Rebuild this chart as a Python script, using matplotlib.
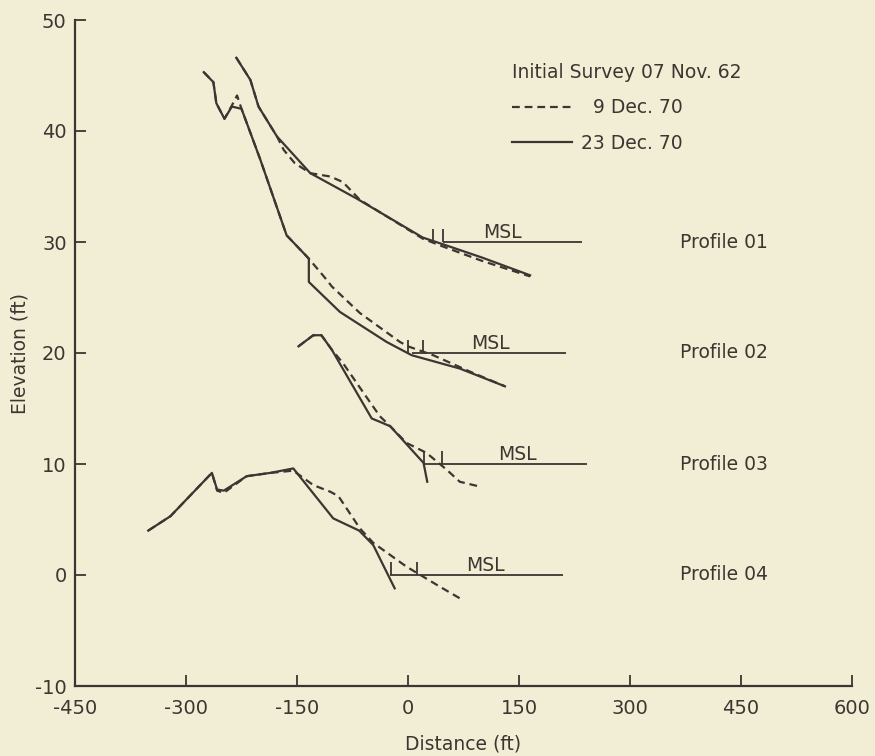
import matplotlib
matplotlib.use("Agg")
import matplotlib.pyplot as plt
from matplotlib.lines import Line2D

plt.rcParams['font.family'] = ['DejaVu Sans']

# ---------------- data (distance ft, elevation ft) ----------------
p1_dec23_x = [-232, -213, -202, -177, -132, -69, 20, 47, 100, 165]
p1_dec23_y = [46.6, 44.6, 42.2, 39.5, 36.2, 33.9, 30.4, 29.8, 28.6, 27.0]
p1_dec9_x = [-232, -213, -202, -177, -168, -153, -132, -105, -88, -65, 20, 47, 100, 165]
p1_dec9_y = [46.6, 44.6, 42.2, 39.5, 38.3, 37.1, 36.2, 35.9, 35.4, 33.8, 30.3, 29.6, 28.3, 26.9]

p2_dec23_x = [-276, -263, -259, -248, -238, -225, -200, -164, -134, -134, -92, -29, 5, 70, 131]
p2_dec23_y = [45.3, 44.4, 42.5, 41.1, 42.2, 42.0, 37.5, 30.6, 28.5, 26.4, 23.7, 21.0, 19.8, 18.6, 17.0]
p2_dec9_x = [-276, -263, -259, -248, -238, -231, -225, -200, -164, -134, -110, -103, -65, -11, 0, 34, 88, 131]
p2_dec9_y = [45.3, 44.4, 42.5, 41.1, 42.3, 43.2, 42.0, 37.5, 30.6, 28.5, 26.6, 26.0, 23.6, 21.0, 20.6, 19.8, 18.2, 17.0]

p3_dec23_x = [-148, -128, -117, -103, -90, -49, -38, -24, 21, 26]
p3_dec23_y = [20.6, 21.6, 21.6, 20.3, 18.8, 14.1, 13.8, 13.4, 10.1, 8.4]
p3_dec9_x = [-148, -128, -117, -103, -88, -60, -38, -24, -2, 25, 52, 70, 95]
p3_dec9_y = [20.6, 21.6, 21.6, 20.3, 19.1, 16.4, 14.3, 13.4, 11.9, 11.0, 9.5, 8.4, 8.0]

p4_dec23_x = [-351, -321, -265, -258, -249, -218, -186, -155, -101, -66, -47, -18]
p4_dec23_y = [4.0, 5.3, 9.2, 7.7, 7.6, 8.9, 9.2, 9.6, 5.1, 4.0, 2.7, -1.2]
p4_dec9_x = [-351, -321, -265, -258, -249, -218, -186, -155, -128, -105, -94, -65, -47, -2, 43, 70]
p4_dec9_y = [4.0, 5.3, 9.2, 7.6, 7.4, 8.9, 9.2, 9.4, 8.1, 7.5, 7.1, 4.2, 2.9, 0.75, -1.05, -2.1]

# MSL reference lines per profile
msl_level = [30, 20, 10, 0]
msl_start = [47, 5, 20, -24]
msl_end = [235, 213, 242, 209]
msl_text_x = [128, 111, 148, 104]

# shoreline tick marks (two per profile)
shore_x = [34, 47, 0, 20, 22, 46, -23, 12]
shore_base = [30, 30, 20, 20, 10, 10, 0, 0]
shore_height = 1.2

profile_names = ['Profile 01', 'Profile 02', 'Profile 03', 'Profile 04']
profile_label_x = 367

x_ticks = [-450, -300, -150, 0, 150, 300, 450, 600]
y_ticks = [-10, 0, 10, 20, 30, 40, 50]

# ---------------- style ----------------
bg = '#f2eed5'
ink = '#3b3631'
lw = 1.6
dash = (0, (3.5, 2.2))
fs = 13.5

fig = plt.figure(figsize=(8.75, 7.56), dpi=100, facecolor=bg)
ax = fig.add_axes([75/875, 70/756, 777/875, 666/756])
ax.set_facecolor(bg)

solid_sets = [(p1_dec23_x, p1_dec23_y), (p2_dec23_x, p2_dec23_y),
              (p3_dec23_x, p3_dec23_y), (p4_dec23_x, p4_dec23_y)]
dash_sets = [(p1_dec9_x, p1_dec9_y), (p2_dec9_x, p2_dec9_y),
             (p3_dec9_x, p3_dec9_y), (p4_dec9_x, p4_dec9_y)]

for (xs, ys) in dash_sets:
    ax.plot(xs, ys, color=ink, lw=lw, linestyle=dash, solid_joinstyle='round')
for (xs, ys) in solid_sets:
    ax.plot(xs, ys, color=ink, lw=lw, solid_joinstyle='round')

ax.hlines(msl_level, msl_start, msl_end, color=ink, lw=1.3)
ax.vlines(shore_x, shore_base, [b + shore_height for b in shore_base], color=ink, lw=1.3)

for lev, tx in zip(msl_level, msl_text_x):
    ax.text(tx, lev + 0.9, 'MSL', ha='center', va='center', fontsize=fs, color=ink)
for lev, name in zip(msl_level, profile_names):
    ax.text(profile_label_x, lev, name, ha='left', va='center', fontsize=fs, color=ink)

ax.set_xlim(-450, 600)
ax.set_ylim(-10, 50)
ax.set_xticks(x_ticks)
ax.set_yticks(y_ticks)
ax.set_xticklabels([str(v) for v in x_ticks])
ax.set_yticklabels([str(v) for v in y_ticks])
for s in ['top', 'right']:
    ax.spines[s].set_visible(False)
for s in ['left', 'bottom']:
    ax.spines[s].set_color(ink)
    ax.spines[s].set_linewidth(1.6)
ax.tick_params(axis='both', direction='in', length=8, width=1.3, colors=ink,
               labelsize=14, labelcolor=ink)
ax.tick_params(axis='x', pad=9)
ax.tick_params(axis='y', pad=6)

ax.set_xlabel('Distance (ft)', fontsize=fs, color=ink, labelpad=12)
ax.set_ylabel('Elevation (ft)', fontsize=fs, color=ink, labelpad=4)

handles = [Line2D([], [], color=ink, lw=lw, linestyle=dash),
           Line2D([], [], color=ink, lw=lw)]
leg = ax.legend(handles, ['  9 Dec. 70', '23 Dec. 70'], title='Initial Survey 07 Nov. 62',
                loc='upper left', bbox_to_anchor=(0.5624, 0.936), frameon=False,
                fontsize=fs, title_fontsize=fs, handlelength=3.2, handletextpad=0.5,
                labelspacing=0.88, alignment='left', borderpad=0, borderaxespad=0)
for t in leg.get_texts():
    t.set_color(ink)
leg.get_title().set_color(ink)

fig.savefig('out.png', dpi=100, facecolor=bg)
